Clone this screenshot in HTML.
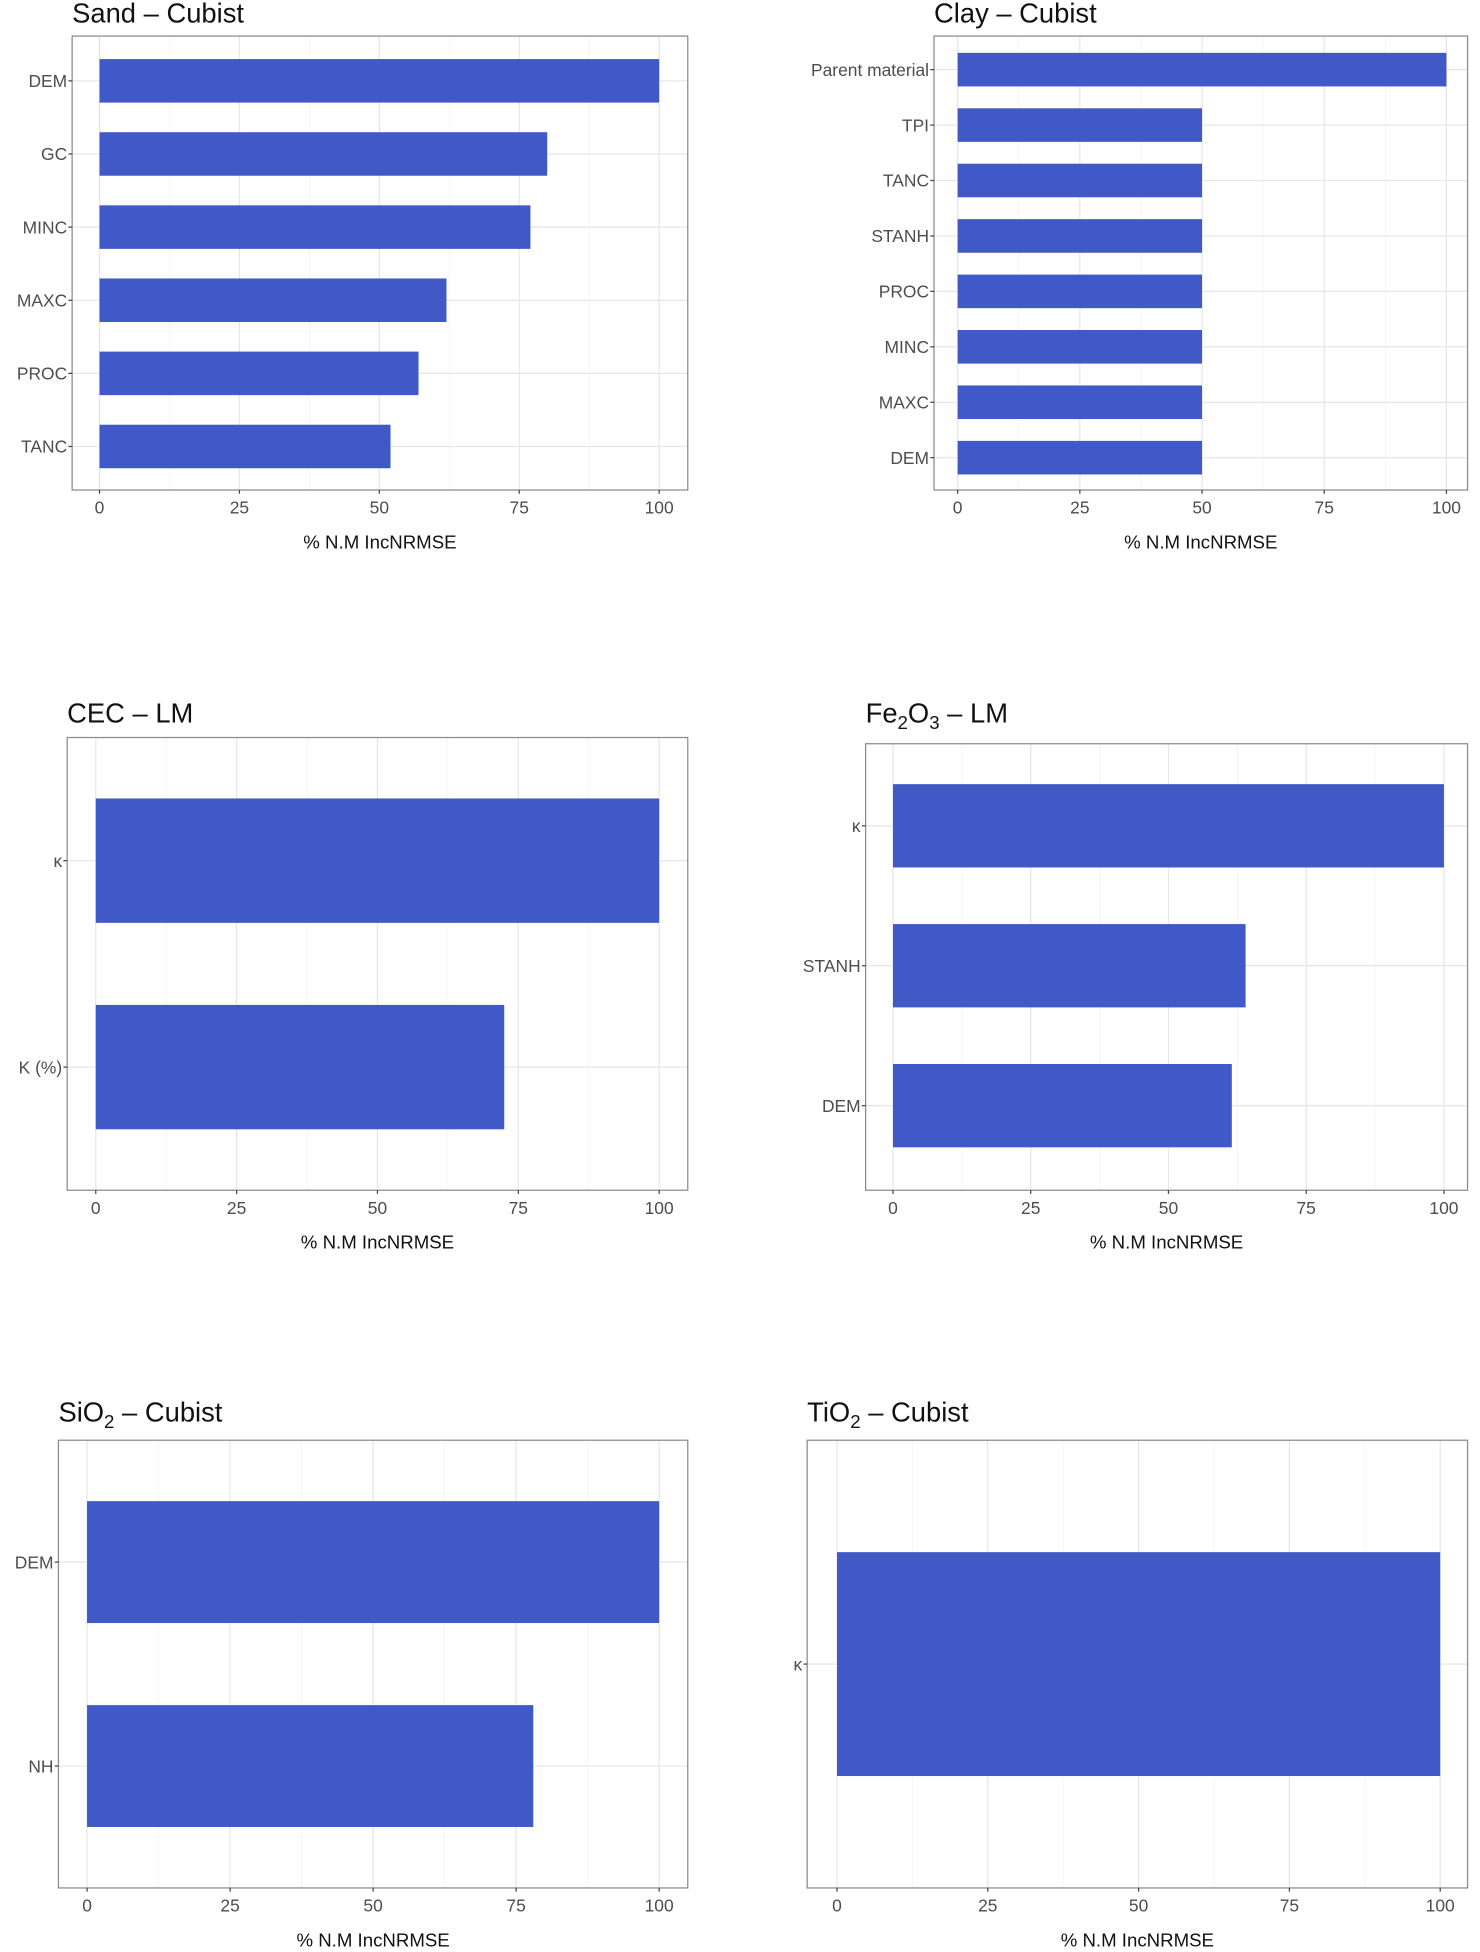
<!DOCTYPE html>
<html><head><meta charset="utf-8"><style>
html,body{margin:0;padding:0;background:#fff;}
svg{display:block;font-family:"Liberation Sans",sans-serif;}
</style></head><body>
<svg id="chart" width="1480" height="1952" viewBox="0 0 1190 1569.5" preserveAspectRatio="none" xmlns="http://www.w3.org/2000/svg"></svg>
<script>
const sandCats = ["DEM","GC","MINC","MAXC","PROC","TANC"];
const sandVals = [100,80,77,62,57,52];
const clayCats = ["Parent material","TPI","TANC","STANH","PROC","MINC","MAXC","DEM"];
const clayVals = [100,50,50,50,50,50,50,50];
const cecCats = ["\u03BA","K (%)"];
const cecVals = [100,72.5];
const feCats = ["\u03BA","STANH","DEM"];
const feVals = [100,64,61.5];
const sioCats = ["DEM","NH"];
const sioVals = [100,78];
const tioCats = ["\u03BA"];
const tioVals = [100];
const xTicks = [0,25,50,75,100];
const xTickLabels = ["0","25","50","75","100"];

const panels = [
 {name:"sand",title:["Sand \u2013 Cubist"],cats:sandCats,vals:sandVals,px0:58,px1:553,py0:29,py1:394,x0:80,x100:530,c0:65,cStep:58.8,bh:35,titleY:18},
 {name:"clay",title:["Clay \u2013 Cubist"],cats:clayCats,vals:clayVals,px0:751,px1:1180,py0:29,py1:394,x0:770,x100:1163,c0:56,cStep:44.57,bh:27,titleY:18},
 {name:"cec",title:["CEC \u2013 LM"],cats:cecCats,vals:cecVals,px0:54,px1:553,py0:593,py1:957,x0:77,x100:530,c0:692,cStep:166,bh:100,titleY:581},
 {name:"fe2o3",title:["Fe","2","O","3"," \u2013 LM"],cats:feCats,vals:feVals,px0:696,px1:1180,py0:598,py1:957,x0:718,x100:1161,c0:664,cStep:112.5,bh:67,titleY:581},
 {name:"sio2",title:["SiO","2",""," \u2013 Cubist"],cats:sioCats,vals:sioVals,px0:47,px1:553,py0:1158,py1:1518,x0:70,x100:530,c0:1256,cStep:164,bh:98,titleY:1143},
 {name:"tio2",title:["TiO","2",""," \u2013 Cubist"],cats:tioCats,vals:tioVals,px0:649,px1:1180,py0:1158,py1:1518,x0:673,x100:1158,c0:1338,cStep:0,bh:180,titleY:1143}
];
const NS="http://www.w3.org/2000/svg";
const svg=document.getElementById('chart');
function mk(tag,attrs,parent){const e=document.createElementNS(NS,tag);for(const k in attrs)e.setAttribute(k,attrs[k]);parent.appendChild(e);return e;}
panels.forEach(p=>{
  const g=mk('g',{},svg);
  
  
  const xs=v=>p.x0+(p.x100-p.x0)*v/100;
  const ys=i=>p.c0+p.cStep*i;
  // title
  const t=mk('text',{x:p.px0,y:p.titleY,'font-size':22,fill:'#111'},g);
  
  
  if(p.title.length===1){t.textContent=p.title[0];}
  else{
    const a=mk('tspan',{},t);a.textContent=p.title[0];
    const b=mk('tspan',{dy:5,'font-size':15},t);b.textContent=p.title[1];
    if(p.title[2]){const c=mk('tspan',{dy:-5},t);c.textContent=p.title[2];const d=mk('tspan',{dy:5,'font-size':15},t);d.textContent=p.title[3];const e=mk('tspan',{dy:-5},t);e.textContent=p.title[4];}
    else{const e=mk('tspan',{dy:-5},t);e.textContent=p.title[3];}
  }
  mk('rect',{x:p.px0,y:p.py0,width:p.px1-p.px0,height:p.py1-p.py0,fill:'#fff'},g);
  // minor grid
  for(let i=0;i<xTicks.length-1;i++){const v=(xTicks[i]+xTicks[i+1])/2;mk('line',{x1:xs(v),x2:xs(v),y1:p.py0,y2:p.py1,stroke:'#f3f3f3','stroke-width':0.6},g);}
  xTicks.forEach(v=>mk('line',{x1:xs(v),x2:xs(v),y1:p.py0,y2:p.py1,stroke:'#e6e6e6','stroke-width':1},g));
  p.cats.forEach((c,i)=>mk('line',{x1:p.px0,x2:p.px1,y1:ys(i),y2:ys(i),stroke:'#e6e6e6','stroke-width':1},g));
  // bars
  p.vals.forEach((v,i)=>{
    const r=mk('rect',{x:xs(0),y:ys(i)-p.bh/2,width:xs(v)-xs(0),height:p.bh,fill:'#4159C6'},g);
    
    
  });
  mk('rect',{x:p.px0,y:p.py0,width:p.px1-p.px0,height:p.py1-p.py0,fill:'none',stroke:'#8a8a8a','stroke-width':1},g);
  // y labels
  p.cats.forEach((c,i)=>{
    mk('line',{x1:p.px0-3,x2:p.px0,y1:ys(i),y2:ys(i),stroke:'#444','stroke-width':1},g);
    const l=mk('text',{x:p.px0-4,y:ys(i)+5,'font-size':14,fill:'#4d4d4d','text-anchor':'end'},g);
    l.textContent=c;
    
    
  });
  // x ticks
  xTicks.forEach((v,i)=>{
    mk('line',{x1:xs(v),x2:xs(v),y1:p.py1,y2:p.py1+3,stroke:'#444','stroke-width':1},g);
    const l=mk('text',{x:xs(v),y:p.py1+19,'font-size':14,fill:'#4d4d4d','text-anchor':'middle'},g);
    l.textContent=xTickLabels[i];
    
    
  });
  const at=mk('text',{x:(p.px0+p.px1)/2,y:p.py1+47,'font-size':15,fill:'#111','text-anchor':'middle'},g);
  at.textContent='% N.M IncNRMSE';
  
  
});
</script>
</body></html>
